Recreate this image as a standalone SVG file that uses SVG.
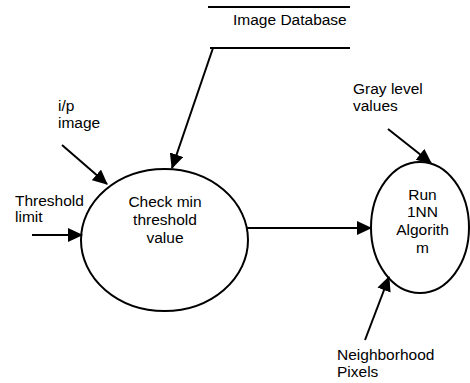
<svg xmlns="http://www.w3.org/2000/svg" width="470" height="383" viewBox="0 0 470 383">
<style>
text{font-family:"Liberation Sans",Arial,sans-serif;font-size:15.5px;fill:#000}
.c{text-anchor:middle}
.n{fill:#fff;stroke:#000;stroke-width:2}
.l{stroke:#000;stroke-width:2;fill:none}
</style>
<defs>
<marker id="a" markerUnits="userSpaceOnUse" markerWidth="15" markerHeight="14" refX="14" refY="7" orient="auto">
<path d="M0,0 L15,7 L0,14 z" fill="#000"/>
</marker>
</defs>
<rect width="470" height="383" fill="#fff"/>
<g id="database">
<line class="l" x1="208" y1="7" x2="350" y2="7"/>
<line class="l" x1="210" y1="48" x2="350" y2="48"/>
<text x="233" y="25">Image Database</text>
</g>
<g id="check">
<ellipse class="n" cx="164.5" cy="240" rx="83.5" ry="71"/>
<text class="c" x="165" y="207">Check min</text>
<text class="c" x="165" y="225">threshold</text>
<text class="c" x="165" y="243">value</text>
</g>
<g id="run">
<ellipse class="n" cx="420" cy="227.5" rx="49" ry="65.5"/>
<text class="c" x="422.5" y="200">Run</text>
<text class="c" x="422.5" y="217">1NN</text>
<text class="c" x="422.5" y="235">Algorith</text>
<text class="c" x="422.5" y="253">m</text>
</g>
<g id="ip">
<text x="58" y="111">i/p</text>
<text x="58" y="128">image</text>
</g>
<g id="threshold">
<text x="15" y="206">Threshold</text>
<text x="15" y="222">limit</text>
</g>
<g id="gray">
<text x="353" y="94">Gray level</text>
<text x="353" y="111">values</text>
</g>
<g id="neighborhood">
<text x="337" y="360">Neighborhood</text>
<text x="337" y="377">Pixels</text>
</g>
<g id="connectors">
<line class="l" x1="213" y1="48" x2="172" y2="168" marker-end="url(#a)"/>
<line class="l" x1="62" y1="145" x2="107" y2="184" marker-end="url(#a)"/>
<line class="l" x1="32" y1="235" x2="82" y2="235" marker-end="url(#a)"/>
<line class="l" x1="247" y1="228" x2="371" y2="228" marker-end="url(#a)"/>
<line class="l" x1="388" y1="129" x2="431" y2="163" marker-end="url(#a)"/>
<line class="l" x1="365" y1="340" x2="389" y2="277" marker-end="url(#a)"/>
</g>
</svg>
